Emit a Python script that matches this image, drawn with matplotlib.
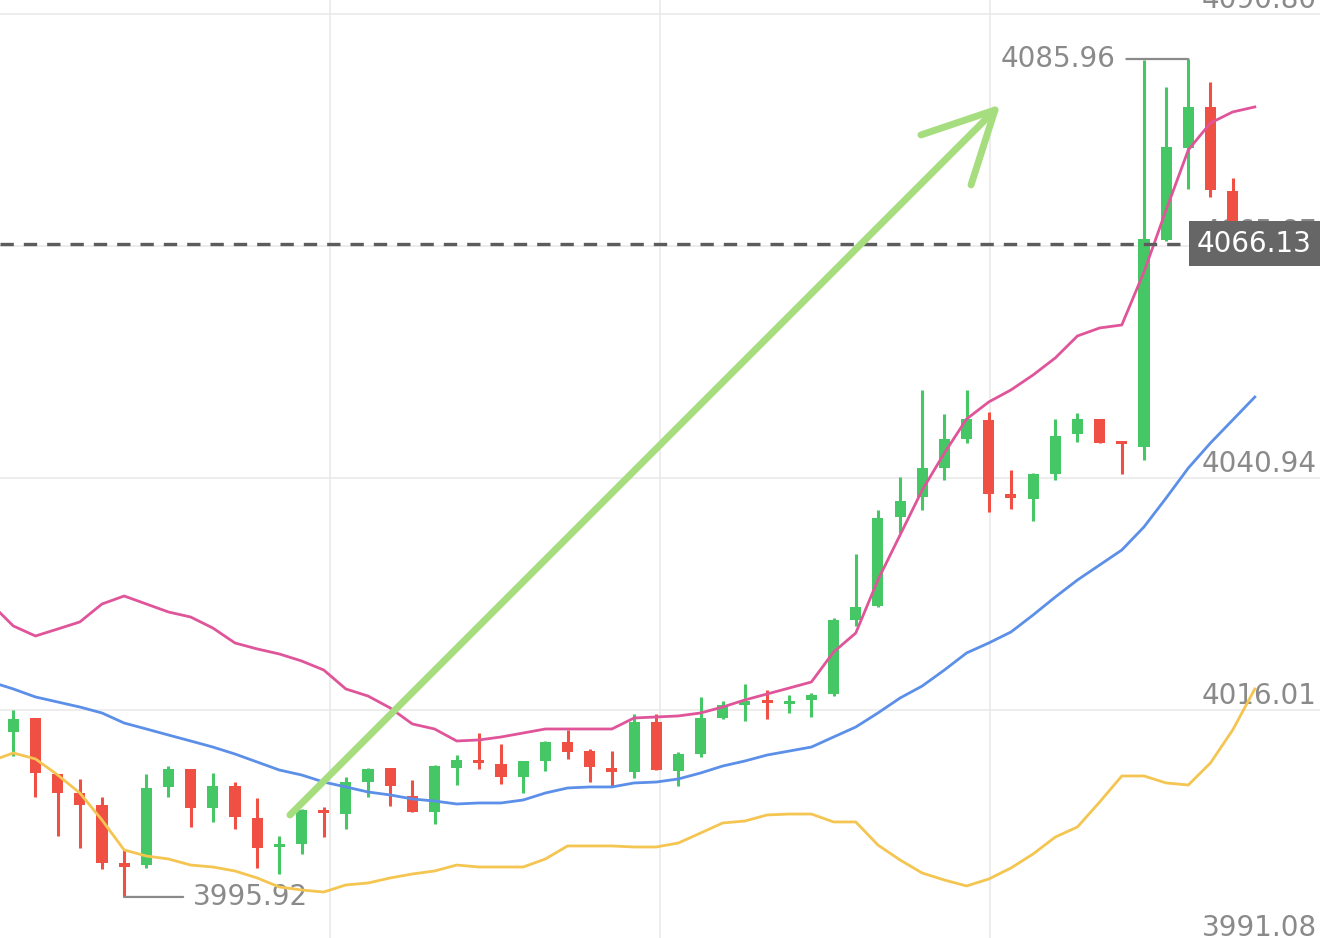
import matplotlib.pyplot as plt
import numpy as np

# candle data
opens = [4013.65, 4015.15, 4009.13, 4007.09, 4005.80, 3999.57, 3999.35, 4007.74, 4009.67, 4005.48,
         4007.84, 4004.40, 4001.29, 4001.61, 4005.16, 4004.83, 4008.27, 4009.78, 4006.77, 4005.05,
         4009.78, 4010.64, 4010.21, 4008.81, 4010.53, 4012.57, 4011.60, 4009.78, 4009.35, 4014.72,
         4009.46, 4011.28, 4015.15, 4016.55, 4017.09, 4016.65, 4017.09, 4017.73, 4025.68, 4027.19,
         4036.75, 4038.90, 4042.01, 4045.13, 4047.17, 4039.22, 4038.68, 4041.37, 4045.67, 4047.28,
         4044.81, 4044.27, 4066.52, 4076.40, 4080.81, 4071.78, 4066.95]
highs = [4016.01, 4015.15, 4009.13, 4008.60, 4006.66, 4000.97, 4009.13, 4009.99, 4009.67, 4009.24,
         4008.27, 4006.55, 4002.47, 4005.37, 4005.59, 4008.81, 4009.78, 4009.78, 4008.49, 4010.10,
         4011.17, 4013.54, 4012.36, 4010.53, 4012.68, 4013.86, 4011.82, 4011.60, 4015.58, 4015.58,
         4011.50, 4017.41, 4016.98, 4018.80, 4018.16, 4017.62, 4017.84, 4025.90, 4032.77, 4037.50,
         4041.05, 4050.40, 4047.82, 4050.40, 4048.03, 4041.80, 4041.50, 4047.28, 4047.93, 4047.28,
         4044.81, 4085.80, 4082.96, 4085.96, 4083.49, 4073.18, 4067.10]
lows = [4011.07, 4006.66, 4002.47, 4001.18, 3998.92, 3995.92, 3999.03, 4006.66, 4003.44, 4003.98,
        4003.22, 3999.03, 3998.39, 4000.54, 4002.36, 4003.22, 4006.66, 4005.69, 4005.05, 4003.76,
        4007.95, 4009.67, 4008.06, 4007.09, 4009.46, 4010.75, 4008.27, 4007.84, 4008.70, 4009.56,
        4007.84, 4010.96, 4015.04, 4014.83, 4015.04, 4015.69, 4015.26, 4017.50, 4025.04, 4027.10,
        4035.03, 4037.50, 4040.73, 4044.70, 4037.29, 4037.61, 4036.32, 4040.73, 4044.81, 4044.70,
        4041.37, 4042.87, 4066.40, 4071.99, 4071.14, 4066.90, 4065.90]
closes = [4015.04, 4009.24, 4007.09, 4005.80, 3999.57, 3999.14, 4007.63, 4009.67, 4005.48, 4007.84,
          4004.51, 4001.18, 4001.50, 4005.26, 4004.94, 4008.27, 4009.67, 4007.84, 4005.05, 4009.99,
          4010.64, 4010.32, 4008.81, 4010.53, 4012.57, 4011.50, 4009.89, 4009.35, 4014.72, 4009.56,
          4011.28, 4015.15, 4016.55, 4016.98, 4016.76, 4016.87, 4017.62, 4025.68, 4027.08, 4036.64,
          4038.47, 4042.01, 4045.13, 4047.28, 4039.22, 4038.79, 4041.37, 4045.45, 4047.28, 4044.70,
          4044.59, 4066.62, 4076.51, 4080.81, 4071.89, 4066.95, 4066.13]

# moving averages, first value belongs to the candle just left of the view
ma_pink = [4027.40, 4025.04, 4023.96, 4024.71, 4025.47, 4027.40, 4028.26, 4027.40, 4026.54, 4026.00, 4024.82,
           4023.21, 4022.57, 4022.03, 4021.28, 4020.31, 4018.27, 4017.51, 4016.23, 4014.51, 4013.97,
           4012.68, 4012.79, 4013.11, 4013.54, 4013.97, 4013.97, 4013.97, 4013.97, 4015.15, 4015.26,
           4015.37, 4015.69, 4016.33, 4017.09, 4017.73, 4018.37, 4019.02, 4022.24, 4024.28, 4029.98,
           4034.82, 4039.65, 4043.63, 4047.28, 4049.11, 4050.40, 4052.01, 4053.84, 4056.20, 4057.06,
           4057.38, 4063.08, 4069.74, 4076.19, 4079.09, 4080.27, 4080.81]
ma_blue = [4019.02, 4018.27, 4017.41, 4016.87, 4016.33, 4015.69, 4014.61, 4013.97, 4013.32, 4012.68, 4012.03,
           4011.28, 4010.42, 4009.56, 4009.03, 4008.27, 4007.74, 4007.20, 4006.88, 4006.45, 4006.23,
           4005.91, 4006.02, 4006.02, 4006.34, 4007.09, 4007.63, 4007.74, 4007.74, 4008.17, 4008.27,
           4008.60, 4009.24, 4009.99, 4010.53, 4011.17, 4011.60, 4012.03, 4013.11, 4014.18, 4015.69,
           4017.30, 4018.59, 4020.31, 4022.14, 4023.21, 4024.39, 4026.22, 4028.15, 4029.98, 4031.59,
           4033.20, 4035.68, 4038.79, 4042.01, 4044.70, 4047.17, 4049.64]
ma_yellow = [4010.53, 4011.39, 4010.75, 4009.03, 4007.09, 4004.19, 4000.97, 4000.32, 4000.00, 3999.35, 3999.14,
             3998.71, 3997.96, 3996.99, 3996.67, 3996.45, 3997.21, 3997.42, 3997.96, 3998.39, 3998.71,
             3999.35, 3999.14, 3999.14, 3999.14, 4000.00, 4001.40, 4001.40, 4001.40, 4001.29, 4001.29,
             4001.72, 4002.79, 4003.87, 4004.08, 4004.73, 4004.83, 4004.83, 4003.98, 4003.98, 4001.50,
             3999.89, 3998.49, 3997.74, 3997.10, 3997.85, 3999.03, 4000.54, 4002.36, 4003.44, 4006.12,
             4008.92, 4008.92, 4008.17, 4007.95, 4010.32, 4013.86, 4018.27]

price_levels = [4090.80, 4065.87, 4040.94, 4016.01, 3991.08]

# hand-drawn trend arrow (candle index, price)
arrow_x = [12.48, 44.28]
arrow_y = [4004.73, 4080.48]
head_x = [40.94, 44.28, 43.20]
head_y = [4077.80, 4080.48, 4072.43]

GREEN = '#46c766'
RED = '#f04f44'
LABEL = '#8a8a8a'

opens = np.array(opens)
closes = np.array(closes)
highs = np.array(highs)
lows = np.array(lows)
x = np.arange(len(opens))
xm = np.arange(-1, len(opens))

fig = plt.figure(figsize=(13.2, 9.38), dpi=100)
ax = fig.add_axes([0, 0, 1, 1])
x0, x1 = -0.6, 58.94
ax.set_xlim(x0, x1)
ax.set_ylim(3991.51, 4092.30)
ax.axis('off')

# grid
for v in price_levels:
    ax.axhline(v, color='#e8e8e8', lw=1.1, zorder=0)
for f in (0.25, 0.5, 0.75):
    ax.axvline(x0 + f * (x1 - x0), color='#e8e8e8', lw=1.1, zorder=0)

# candles
up = closes >= opens
colors = np.where(up, GREEN, RED)
ax.vlines(x, lows, highs, color=colors, lw=2.2, zorder=3)
bottom = np.minimum(opens, closes)
height = np.maximum(np.abs(closes - opens), 0.3)
ax.bar(x, height, bottom=bottom, width=0.5, color=colors, zorder=4)

# moving averages
ax.plot(xm, ma_yellow, color='#f4c550', lw=2, zorder=5)
ax.plot(xm, ma_blue, color='#5b8fe8', lw=2, zorder=5)
ax.plot(xm, ma_pink, color='#e0559a', lw=2, zorder=5)

# price axis labels
for v in price_levels:
    ax.annotate(f'{v:.2f}', xy=(1, v), xycoords=('axes fraction', 'data'),
                xytext=(-2.2, 4.3), textcoords='offset points',
                ha='right', va='baseline', color=LABEL, fontsize=20, zorder=2)

# max / min markers
imax = int(np.argmax(highs))
imin = int(np.argmin(lows))
ax.annotate('', xy=(imax, highs[imax]), xytext=(-44.6, 0), textcoords='offset points',
            arrowprops=dict(arrowstyle='-', color=LABEL, lw=1.6, shrinkA=0, shrinkB=0), zorder=6)
ax.annotate(f'{highs[imax]:.2f}', xy=(imax, highs[imax]), xytext=(-52.6, 0),
            textcoords='offset points', ha='right', va='center', color=LABEL, fontsize=20)
ax.annotate('', xy=(imin, lows[imin]), xytext=(42.5, 0), textcoords='offset points',
            arrowprops=dict(arrowstyle='-', color=LABEL, lw=1.6, shrinkA=0, shrinkB=0), zorder=6)
ax.annotate(f'{lows[imin]:.2f}', xy=(imin, lows[imin]), xytext=(49.7, 0),
            textcoords='offset points', ha='left', va='center', color=LABEL, fontsize=20)

# trend arrow
ax.plot(arrow_x, arrow_y, color='#a6dd7e', lw=5, solid_capstyle='round', zorder=7)
ax.plot(head_x, head_y, color='#a6dd7e', lw=5, solid_capstyle='round',
        solid_joinstyle='round', zorder=7)

# last price line and tag
last = closes[-1]
ax.axhline(last, color='#5c5c5c', lw=2.4, dashes=(4, 3), zorder=6)
ax.annotate(f'{last:.2f}', xy=(1, last), xycoords=('axes fraction', 'data'),
            xytext=(-5.8, 0), textcoords='offset points', ha='right', va='center',
            color='white', fontsize=20, zorder=10,
            bbox=dict(boxstyle='square,pad=0.3', fc='#666666', ec='none'))

fig.savefig('out.png', dpi=100)
